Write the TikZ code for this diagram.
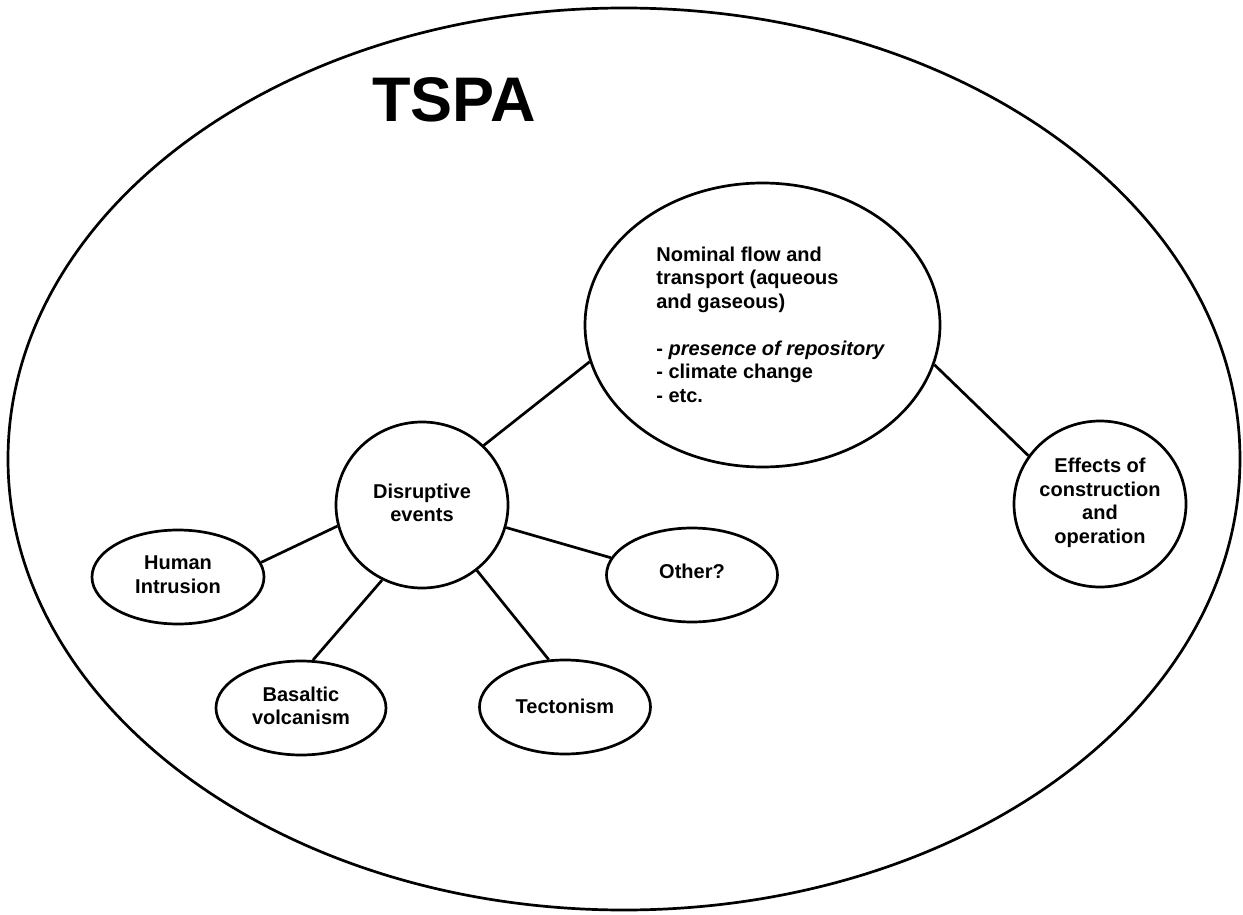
\documentclass[tikz,border=0pt]{standalone}
\usepackage{fontspec}
\setmainfont{Liberation Sans}
\usetikzlibrary{shapes.geometric}
\begin{document}
\begin{tikzpicture}[x=1pt,y=-1pt,line width=2.7pt,
  bub/.style={draw,ellipse,inner sep=0pt},
  lbl/.style={font=\fontsize{20}{23.5}\selectfont\bfseries,align=center,inner sep=0pt},
  title/.style={font=\fontsize{63}{70}\selectfont\bfseries,inner sep=0pt,anchor=base west}]
\useasboundingbox (0,0) rectangle (1243,915);
\fill[white] (0,0) rectangle (1243,915);
% outer ellipse
\node[bub,minimum width=1232pt,minimum height=902pt] (outer) at (624,459) {};
\node[title] (tspa) at (371,122) {TSPA};
% bubbles
\node[bub,minimum width=355pt,minimum height=284pt] (nom) at (762.5,325) {};
\node[bub,minimum width=172pt,minimum height=166pt] (dis) at (422,505) {};
\node[bub,minimum width=172pt,minimum height=94pt] (hum) at (178,577) {};
\node[bub,minimum width=170pt,minimum height=94pt] (bas) at (301,708) {};
\node[bub,minimum width=171pt,minimum height=94pt] (tec) at (565,707) {};
\node[bub,minimum width=171pt,minimum height=94pt] (oth) at (692,575) {};
\node[bub,minimum width=172pt,minimum height=166pt] (eff) at (1100,504) {};
% texts
\node[lbl,align=left,anchor=north west] (nomtxt) at (655,245.4)
  {Nominal flow and\\transport (aqueous\\and gaseous)\\[23.5pt]- {\itshape presence of repository}\\- climate change\\- etc.};
\node[lbl] (distxt) at (422,503) {Disruptive\\events};
\node[lbl] (humtxt) at (178,574.5) {Human\\Intrusion};
\node[lbl] (bastxt) at (301,706) {Basaltic\\volcanism};
\node[lbl] (tectxt) at (565,706) {Tectonism};
\node[lbl] (othtxt) at (692,571) {Other?};
\node[lbl] (efftxt) at (1100,503) {Effects of\\construction\\and\\operation};
% connectors
\draw (nom.192.6) -- (dis.44.5);
\draw (nom.347.75) -- (eff.146.1);
\draw (dis.194.7) -- (hum.10.4);
\draw (dis.345.2) -- (oth.168.3);
\draw (dis.242.2) -- (bas.76.8);
\draw (dis.310.2) -- (tec.109.9);
\end{tikzpicture}
\end{document}
